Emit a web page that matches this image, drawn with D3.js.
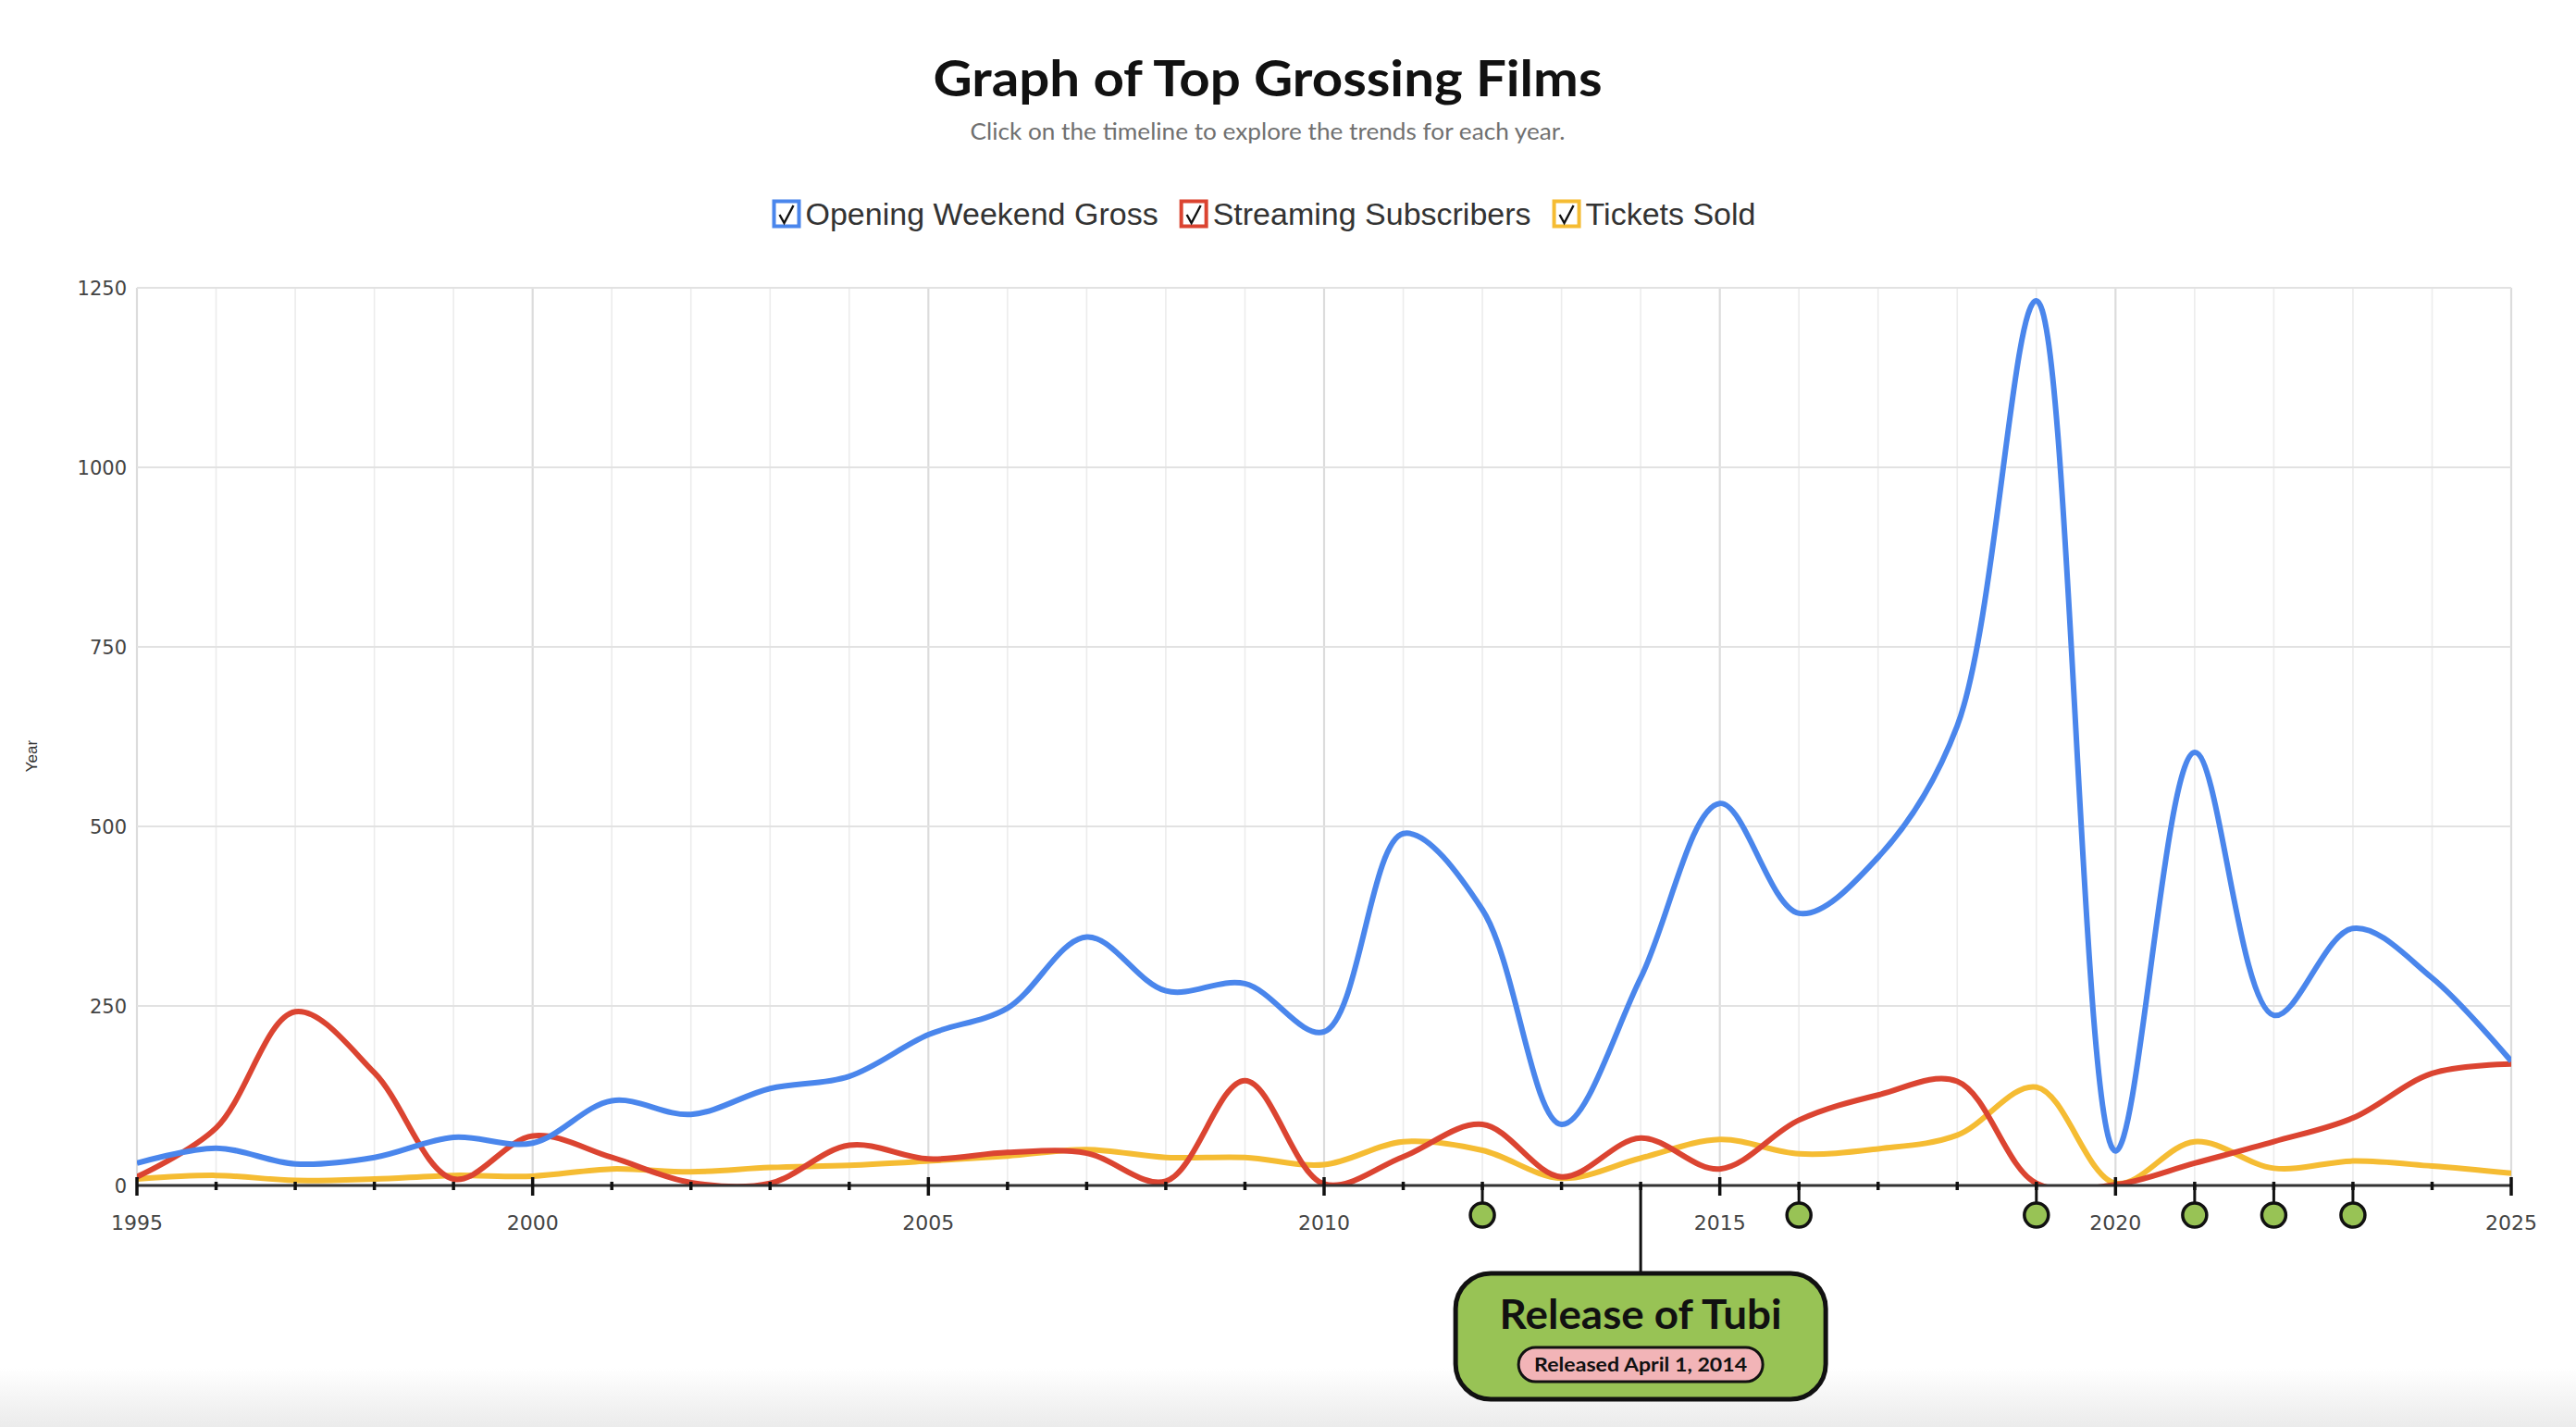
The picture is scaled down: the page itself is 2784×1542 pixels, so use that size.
<!DOCTYPE html>
<html>
<head>
<meta charset="utf-8">
<title>Graph of Top Grossing Films</title>
<script src="https://cdn.jsdelivr.net/npm/d3@7"></script>
<style>
  html, body { margin: 0; padding: 0; background: #fff; }
  svg { display: block; }
</style>
</head>
<body>
<svg id="chart"></svg>
<script>
// ---- data ----
const years = [1995, 1996, 1997, 1998, 1999, 2000, 2001, 2002, 2003, 2004,
               2005, 2006, 2007, 2008, 2009, 2010, 2011, 2012, 2013, 2014,
               2015, 2016, 2017, 2018, 2019, 2020, 2021, 2022, 2023, 2024, 2025];
const openingGross  = [31, 52, 30, 39, 67, 59, 118, 99, 135, 152,
                       210, 247, 346, 271, 281, 214, 490, 384, 85, 289,
                       532, 379, 457, 640, 1232, 48, 603, 237, 358, 289, 173];
const streamingSubs = [12, 80, 242, 157, 9, 69, 39, 4, 3, 56,
                       37, 46, 45, 6, 146, 2, 40, 85, 12, 66,
                       23, 91, 126, 145, 3, 1, 31, 61, 94, 156, 169];
const ticketsSold   = [9, 14, 7, 9, 14, 13, 23, 19, 25, 28,
                       34, 41, 50, 39, 39, 29, 61, 49, 10, 38,
                       64, 44, 51, 70, 137, 3, 61, 24, 34, 27, 17];
const seriesNames  = ['Opening Weekend Gross', 'Streaming Subscribers', 'Tickets Sold'];
const yTicks       = [0, 250, 500, 750, 1000, 1250];
const xLabelYears  = [1995, 2000, 2005, 2010, 2015, 2020, 2025];
const eventYears   = [2012, 2014, 2016, 2019, 2021, 2022, 2023];
const selectedYear = 2014;
const selectedTitle = 'Release of Tubi';
const selectedDate  = 'Released April 1, 2014';

(function () {
  const W = 2784, H = 1542;
  const PLOT = { left: 148, right: 2714, top: 311, bottom: 1281 };
  const COLORS = ['#4a86ec', '#db4431', '#f5bc33'];
  const GREEN = '#98c355';
  const INK = '#111';
  const AVENIR = 'Lato, "Open Sans", sans-serif';   // closest installed face to the Avenir look
  const AXIS_FONT = '"DejaVu Sans", Verdana, sans-serif';
  const LEGEND_FONT = '"Liberation Sans", Arial, sans-serif';

  const svg = d3.select('#chart').attr('width', W).attr('height', H)
    .attr('viewBox', `0 0 ${W} ${H}`);

  const x = d3.scaleLinear().domain([years[0], years[years.length - 1]])
    .range([PLOT.left, PLOT.right]);
  const y = d3.scaleLinear().domain([0, 1250]).range([PLOT.bottom, PLOT.top]);

  // bottom fade like the page footer
  const defs = svg.append('defs');
  const grad = defs.append('linearGradient').attr('id', 'foot')
    .attr('x1', 0).attr('y1', 0).attr('x2', 0).attr('y2', 1);
  grad.append('stop').attr('offset', 0).attr('stop-color', '#fff');
  grad.append('stop').attr('offset', 1).attr('stop-color', '#ebebeb');
  svg.append('rect').attr('x', 0).attr('y', 1478).attr('width', W).attr('height', H - 1478)
    .attr('fill', 'url(#foot)');

  defs.append('clipPath').attr('id', 'plot-clip').append('rect')
    .attr('x', PLOT.left).attr('y', PLOT.top - 4)
    .attr('width', PLOT.right - PLOT.left).attr('height', PLOT.bottom - PLOT.top + 4);

  /* ---------- title block ---------- */
  svg.append('text').attr('x', 1370).attr('y', 104)
    .attr('text-anchor', 'middle').attr('font-family', AVENIR).attr('font-weight', 700)
    .attr('font-size', 54).attr('fill', INK)
    .attr('textLength', 723).attr('lengthAdjust', 'spacingAndGlyphs')
    .text('Graph of Top Grossing Films');
  svg.append('text').attr('x', 1370).attr('y', 151)
    .attr('text-anchor', 'middle').attr('font-family', AVENIR)
    .attr('font-size', 25).attr('fill', '#707070')
    .attr('textLength', 643).attr('lengthAdjust', 'spacingAndGlyphs')
    .text('Click on the timeline to explore the trends for each year.');

  /* ---------- legend (checkbox style) ---------- */
  const BOX = 27, BOX_GAP = 7, ITEM_GAP = 25, LEG_Y = 231;
  const legend = svg.append('g');
  let cursor = 0;
  seriesNames.forEach((name, i) => {
    const g = legend.append('g').attr('transform', `translate(${cursor},0)`);
    g.append('rect').attr('x', 0).attr('y', LEG_Y - BOX / 2).attr('width', BOX).attr('height', BOX)
      .attr('fill', '#fff').attr('stroke', COLORS[i]).attr('stroke-width', 4);
    g.append('path')
      .attr('d', `M6,${LEG_Y + 1} L11,${LEG_Y + 10} L21,${LEG_Y - 9}`)
      .attr('fill', 'none').attr('stroke', INK).attr('stroke-width', 2.4);
    const t = g.append('text').attr('x', BOX + BOX_GAP).attr('y', LEG_Y + 12)
      .attr('font-family', LEGEND_FONT).attr('font-size', 34).attr('fill', '#333')
      .text(name);
    cursor += BOX + BOX_GAP + t.node().getComputedTextLength() + ITEM_GAP;
  });
  const legW = cursor - ITEM_GAP;
  legend.attr('transform', `translate(${1367 - legW / 2},0)`);

  /* ---------- grid ---------- */
  const grid = svg.append('g');
  grid.selectAll('line.v').data(years).join('line')
    .attr('x1', d => x(d)).attr('x2', d => x(d))
    .attr('y1', PLOT.top).attr('y2', PLOT.bottom)
    .attr('stroke', d => d % 5 === 0 ? '#dcdcdc' : '#ececec')
    .attr('stroke-width', d => d % 5 === 0 ? 2.2 : 1.6);
  grid.selectAll('line.h').data(yTicks).join('line')
    .attr('x1', PLOT.left).attr('x2', PLOT.right)
    .attr('y1', d => y(d)).attr('y2', d => y(d))
    .attr('stroke', '#e2e2e2').attr('stroke-width', 2.2);

  svg.append('g').selectAll('text').data(yTicks).join('text')
    .attr('x', PLOT.left - 11).attr('y', d => y(d)).attr('dy', '0.36em')
    .attr('text-anchor', 'end').attr('font-family', AXIS_FONT).attr('font-size', 21)
    .attr('fill', '#444').text(d => d);

  svg.append('text')
    .attr('transform', `translate(40,817) rotate(-90)`)
    .attr('text-anchor', 'middle').attr('font-family', LEGEND_FONT)
    .attr('font-size', 17).attr('fill', '#333').text('Year');

  /* ---------- series ---------- */
  const line = d3.line()
    .x((d, i) => x(years[i]))
    .y(d => y(d))
    .curve(d3.curveCatmullRom.alpha(0.5));

  svg.append('g').attr('clip-path', 'url(#plot-clip)')
    .selectAll('path').data([openingGross, streamingSubs, ticketsSold].reverse()).join('path')
    .attr('d', line)
    .attr('fill', 'none')
    .attr('stroke', (d, i) => COLORS[2 - i])
    .attr('stroke-width', 6)
    .attr('stroke-linejoin', 'round');

  /* ---------- timeline axis ---------- */
  const axis = svg.append('g');
  axis.append('line').attr('x1', PLOT.left).attr('x2', PLOT.right)
    .attr('y1', PLOT.bottom).attr('y2', PLOT.bottom)
    .attr('stroke', '#333').attr('stroke-width', 3);
  axis.selectAll('line.tick').data(years).join('line')
    .attr('x1', d => x(d)).attr('x2', d => x(d))
    .attr('y1', d => d % 5 === 0 ? PLOT.bottom - 9 : PLOT.bottom - 4)
    .attr('y2', d => d % 5 === 0 ? PLOT.bottom + 11 : PLOT.bottom + 5)
    .attr('stroke', INK).attr('stroke-width', 3.5);
  axis.selectAll('text').data(xLabelYears).join('text')
    .attr('x', d => x(d)).attr('y', 1321).attr('dy', '0.36em')
    .attr('text-anchor', 'middle').attr('font-family', AXIS_FONT).attr('font-size', 22)
    .attr('fill', '#444').text(d => d);

  // event markers hanging off the timeline
  const CIRCLE_Y = 1313, R = 13;
  const markers = svg.append('g').selectAll('g')
    .data(eventYears.filter(d => d !== selectedYear)).join('g');
  markers.append('line')
    .attr('x1', d => x(d)).attr('x2', d => x(d))
    .attr('y1', PLOT.bottom).attr('y2', CIRCLE_Y - R)
    .attr('stroke', INK).attr('stroke-width', 3);
  markers.append('circle')
    .attr('cx', d => x(d)).attr('cy', CIRCLE_Y).attr('r', R)
    .attr('fill', GREEN).attr('stroke', INK).attr('stroke-width', 3.5);

  /* ---------- selected event callout ---------- */
  const cx = x(selectedYear);
  const CARD = { w: 400, h: 136, top: 1376, rx: 38 };
  const call = svg.append('g');
  call.append('line').attr('x1', cx).attr('x2', cx)
    .attr('y1', PLOT.bottom).attr('y2', CARD.top)
    .attr('stroke', INK).attr('stroke-width', 3);
  call.append('rect')
    .attr('x', cx - CARD.w / 2).attr('y', CARD.top)
    .attr('width', CARD.w).attr('height', CARD.h).attr('rx', CARD.rx)
    .attr('fill', GREEN).attr('stroke', INK).attr('stroke-width', 5);
  call.append('text').attr('x', cx).attr('y', 1436)
    .attr('text-anchor', 'middle').attr('font-family', AVENIR).attr('font-weight', 700)
    .attr('font-size', 44).attr('fill', INK)
    .attr('textLength', 305).attr('lengthAdjust', 'spacingAndGlyphs')
    .text(selectedTitle);
  const PILL = { w: 264, h: 37, top: 1456 };
  call.append('rect')
    .attr('x', cx - PILL.w / 2).attr('y', PILL.top)
    .attr('width', PILL.w).attr('height', PILL.h).attr('rx', PILL.h / 2)
    .attr('fill', '#f2b4b7').attr('stroke', INK).attr('stroke-width', 3);
  call.append('text').attr('x', cx).attr('y', 1482)
    .attr('text-anchor', 'middle').attr('font-family', AVENIR).attr('font-weight', 700)
    .attr('font-size', 21).attr('fill', INK)
    .attr('textLength', 230).attr('lengthAdjust', 'spacingAndGlyphs')
    .text(selectedDate);
})();
</script>
</body>
</html>
